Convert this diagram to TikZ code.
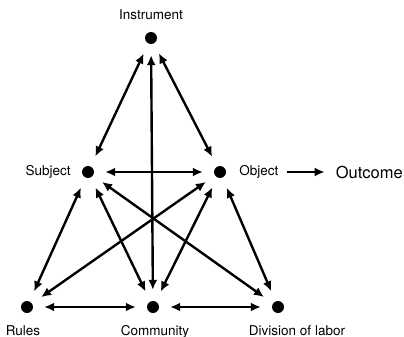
\documentclass[tikz,border=0pt]{standalone}
\usepackage{fontspec}
\setmainfont{TeX Gyre Heros}
\usetikzlibrary{arrows.meta,positioning}

\begin{document}
\begin{tikzpicture}[x=1pt,y=-1pt,>={Latex[length=10pt,width=9pt]},
  vertex/.style={circle,fill=black,inner sep=0pt,minimum size=12pt},
  lbl/.style={font=\fontsize{13.5}{15}\selectfont,inner sep=0pt},
  link/.style={<->,line width=2.4pt,shorten <=11pt,shorten >=11pt}]
  \useasboundingbox (0,0) rectangle (404,337);
  % points of the triangle
  \node[vertex] (instrument) at (151,38) {};
  \node[vertex] (subject) at (88,172) {};
  \node[vertex] (object) at (220,172) {};
  \node[vertex] (rules) at (27,307) {};
  \node[vertex] (community) at (153,307) {};
  \node[vertex] (division) at (278,307) {};
  % labels
  \node[lbl,above=12pt of instrument] (instrumentlbl) {Instrument};
  \node[lbl,left=11pt of subject] (subjectlbl) {Subject};
  \node[lbl,right=13pt of object] (objectlbl) {Object};
  \node[lbl,below=12pt of rules,xshift=-4pt] (ruleslbl) {Rules};
  \node[lbl,below=12pt of community,xshift=2pt] (communitylbl) {Community};
  \node[lbl,below=12pt of division,xshift=19pt] (divisionlbl) {Division of labor};
  \node[lbl,font=\fontsize{16.5}{18}\selectfont,right=57pt of objectlbl] (outcomelbl) {Outcome};
  % connections
  \draw[link] (instrument) -- (subject);
  \draw[link] (instrument) -- (object);
  \draw[link] (instrument) -- (community);
  \draw[link] (subject) -- (object);
  \draw[link] (subject) -- (rules);
  \draw[link] (subject) -- (community);
  \draw[link] (subject) -- (division);
  \draw[link] (object) -- (rules);
  \draw[link] (object) -- (community);
  \draw[link] (object) -- (division);
  \draw[link] (rules) -- (community);
  \draw[link] (community) -- (division);
  \draw[->,line width=2.4pt,shorten <=8pt,shorten >=11pt] (objectlbl) -- (outcomelbl);
\end{tikzpicture}
\end{document}
